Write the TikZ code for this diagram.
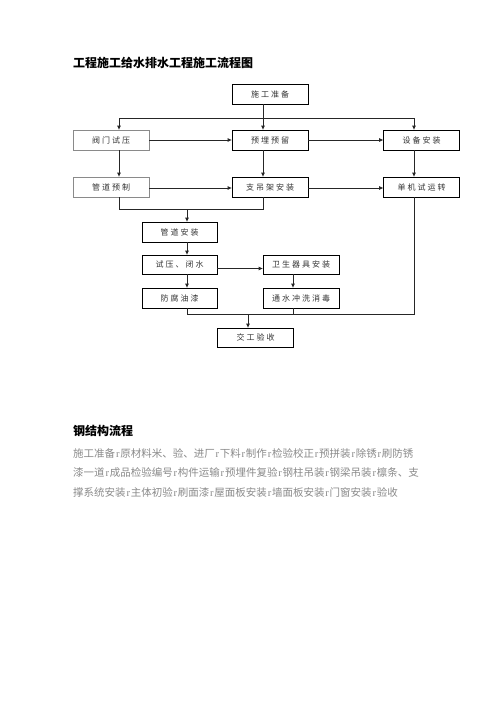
\documentclass[tikz,border=0pt]{standalone}
\usepackage{fontspec}
\setmainfont{Noto Sans CJK SC}
\newfontfamily\boxfont[LetterSpace=25]{Noto Sans CJK SC}
\newfontfamily\sepfont{Liberation Serif}
\usetikzlibrary{arrows.meta}
\definecolor{bodygray}{HTML}{8A8A8A}
\definecolor{lightedge}{HTML}{8A8A8A}
\newcommand{\sepr}{\makebox[5.1pt]{\sepfont r}}
\tikzset{
  stepbox/.style={draw=black, line width=0.8pt, minimum width=76pt, minimum height=20pt,
    inner sep=0pt, font=\boxfont\fontsize{8}{9}\selectfont, text=black!80},
  graybox/.style={stepbox, draw=lightedge},
  link/.style={line width=0.8pt, draw=black!85},
  arr/.style={link, -{Triangle[length=4pt,width=3.5pt]}},
  ttl/.style={font=\bfseries\fontsize{12}{14}\selectfont, anchor=west, inner sep=0pt},
  bodyline/.style={font=\fontsize{10.5}{12}\selectfont, text=bodygray, anchor=west, inner sep=0pt}
}
\begin{document}
\begin{tikzpicture}[x=1pt,y=-1pt]
\fill[white] (0,0) rectangle (500,707);
\useasboundingbox (0,0) rectangle (500,707);

\node[ttl] (t1) at (73,63) {工程施工给水排水工程施工流程图};

% boxes
\node[stepbox] (zb) at (270,94) {施工准备};
\node[graybox] (fm) at (111,140) {阀门试压};
\node[stepbox] (yl) at (270,140) {预埋预留};
\node[stepbox] (sb) at (421.5,140) {设备安装};
\node[graybox] (gy) at (111,187) {管道预制};
\node[stepbox] (zd) at (270,187) {支吊架安装};
\node[stepbox] (dj) at (421.5,187) {单机试运转};
\node[stepbox, minimum width=75pt] (ga) at (179.5,232) {管道安装};
\node[stepbox, minimum width=75pt, minimum height=19pt] (sy) at (179.5,264.5) {试压、闭水};
\node[stepbox, minimum height=19pt] (ws) at (301,264.5) {卫生器具安装};
\node[stepbox, minimum width=75pt] (ff) at (179.5,298) {防腐油漆};
\node[stepbox] (ts) at (301,298) {通水冲洗消毒};
\node[stepbox, minimum height=19pt] (jg) at (255.5,337.5) {交工验收};

% column / row reference coordinates
\coordinate (cA) at (119,118);
\coordinate (cB) at (263,118);
\coordinate (cC) at (414,118);
\coordinate (cD) at (187,209);
\coordinate (cE) at (293,314);
\coordinate (cF) at (248,314);
\coordinate (cG) at (414,314);
\coordinate (cH) at (187,314);
\coordinate (cI) at (119,209);
\coordinate (cJ) at (263,209);
\coordinate (r3) at (0,188);
\coordinate (r4) at (0,268.5);

% top distribution
\draw[arr] (zb.south -| cB) -- (yl.north -| cB);
\draw[link] (cA) -- (cC);
\draw[arr] (cA) -- (fm.north -| cA);
\draw[arr] (cC) -- (sb.north -| cC);

% row 2 horizontals
\draw[arr] (fm.east) -- (yl.west);
\draw[arr] (yl.east) -- (sb.west);

% row 2 -> row 3
\draw[arr] (fm.south -| cA) -- (gy.north -| cA);
\draw[arr] (yl.south -| cB) -- (zd.north -| cB);
\draw[arr] (sb.south -| cC) -- (dj.north -| cC);

% row 3 horizontals
\draw[arr] (gy.east |- r3) -- (zd.west |- r3);
\draw[arr] (zd.east |- r3) -- (dj.west |- r3);

% merge to 管道安装
\draw[link] (gy.south -| cI) -- (cI) -- (cJ) -- (zd.south -| cJ);
\draw[arr] (cD) -- (ga.north -| cD);

% lower chain
\draw[arr] (ga.south -| cD) -- (sy.north -| cD);
\draw[arr] (sy.south -| cD) -- (ff.north -| cD);
\draw[arr] (sy.east |- r4) -- (ws.west |- r4);
\draw[arr] (ws.south -| cE) -- (ts.north -| cE);

% final merge
\draw[link] (ff.south -| cH) -- (cH) -- (cG) -- (dj.south -| cG);
\draw[link] (ts.south -| cE) -- (cE);
\draw[arr] (cF) -- (jg.north -| cF);

% second section
\node[ttl] (t2) at (73,431) {钢结构流程};
\node[bodyline] (l1) at (73,453) {施工准备\sepr 原材料米、验、进厂\sepr 下料\sepr 制作\sepr 检验校正\sepr 预拼装\sepr 除锈\sepr 刷防锈};
\node[bodyline] (l2) at (73,473) {漆一道\sepr 成品检验编号\sepr 构件运输\sepr 预埋件复验\sepr 钢柱吊装\sepr 钢梁吊装\sepr 檩条、支};
\node[bodyline] (l3) at (73,492) {撑系统安装\sepr 主体初验\sepr 刷面漆\sepr 屋面板安装\sepr 墙面板安装\sepr 门窗安装\sepr 验收};
\end{tikzpicture}
\end{document}
